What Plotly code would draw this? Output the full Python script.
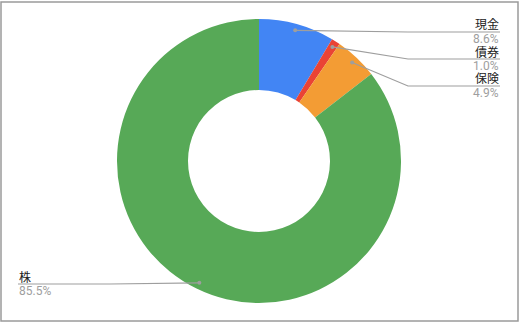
import math
import plotly.graph_objects as go

# ---- data ----
labels = ["現金", "債券", "保険", "株"]
values = [8.6, 1.0, 4.9, 85.5]
colors = ["#4285F4", "#EA4335", "#F39C34", "#57A957"]

W, H = 521, 324
CX, CY, R = 259, 161, 142
HOLE = 0.5

# label layout (pixel positions of the label underline)
right_text_x, right_elbow_x = 500, 408
left_text_x, left_elbow_x = 18, 110
right_line_y = [32, 59, 86]
left_line_y = [284]

def px(x):
    return x / W

def py(y):
    return 1 - y / H

fig = go.Figure()
fig.add_trace(go.Pie(
    labels=labels, values=values, hole=HOLE, sort=False,
    direction="clockwise", rotation=0,
    marker=dict(colors=colors, line=dict(width=0)),
    textinfo="none", showlegend=False, hoverinfo="label+percent",
    domain=dict(x=[px(CX - R), px(CX + R)], y=[py(CY + R), py(CY - R)]),
))

shapes = []
annotations = []
total = sum(values)
cum = 0.0
ri = li = 0
lc = "#9E9E9E"
fam = "Roboto, 'Noto Sans CJK JP', sans-serif"
font_main = dict(family=fam, size=12, color="#222222")
font_pct = dict(family=fam, size=12, color="#9E9E9E")
for lab, v in zip(labels, values):
    th = 2 * math.pi * (cum + v / 2) / total
    cum += v
    rd = 0.955 * R
    dx, dy = CX + rd * math.sin(th), CY - rd * math.cos(th)
    if math.sin(th) >= 0:
        ly = right_line_y[ri]; ri += 1
        ex, tx, anchor = right_elbow_x, right_text_x, "right"
    else:
        ly = left_line_y[li]; li += 1
        ex, tx, anchor = left_elbow_x, left_text_x, "left"
    path = f"M {px(dx)} {py(dy)} L {px(ex)} {py(ly)} L {px(tx)} {py(ly)}"
    shapes.append(dict(type="path", path=path, xref="paper", yref="paper",
                       line=dict(color=lc, width=1.2)))
    shapes.append(dict(type="circle", xref="paper", yref="paper",
                       x0=px(dx - 2), x1=px(dx + 2), y0=py(dy + 2), y1=py(dy - 2),
                       fillcolor=lc, line=dict(width=0)))
    annotations.append(dict(x=px(tx), y=py(ly - 7), xref="paper", yref="paper",
                            text=lab, showarrow=False, xanchor=anchor, yanchor="middle",
                            font=font_main, borderpad=0))
    annotations.append(dict(x=px(tx), y=py(ly + 6.8), xref="paper", yref="paper",
                            text=f"{v:.1f}%", showarrow=False, xanchor=anchor, yanchor="middle",
                            font=font_pct, borderpad=0))

# chart border
shapes.append(dict(type="rect", xref="paper", yref="paper",
                   x0=px(1), x1=px(518), y0=py(321), y1=py(2),
                   line=dict(color="#9A9A9A", width=1.5), layer="below"))

fig.update_layout(
    width=W, height=H, margin=dict(l=0, r=0, t=0, b=0),
    paper_bgcolor="white", plot_bgcolor="white",
    shapes=shapes, annotations=annotations,
)
fig.write_html("out.html")
